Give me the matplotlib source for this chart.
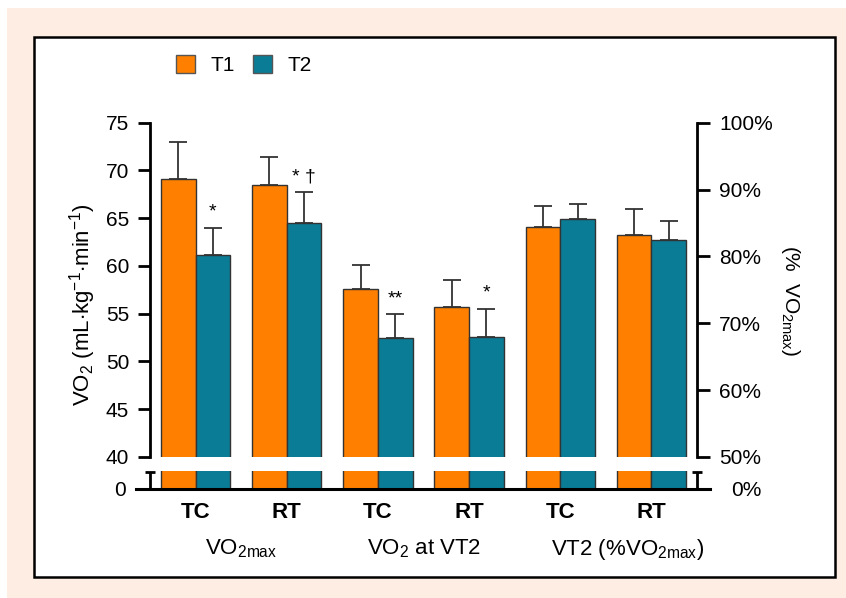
import matplotlib
matplotlib.use('Agg')
import matplotlib.pyplot as plt
from matplotlib.patches import Rectangle, Patch
import numpy as np

plt.rcParams['font.family'] = ['Liberation Sans', 'DejaVu Sans']
plt.rcParams['mathtext.fontset'] = 'custom'
plt.rcParams['mathtext.rm'] = 'Liberation Sans'
plt.rcParams['mathtext.it'] = 'Liberation Sans:italic'
plt.rcParams['mathtext.bf'] = 'Liberation Sans:bold'

# ---------------- data ----------------
conditions = ['TC', 'RT', 'TC', 'RT', 'TC', 'RT']
group_main = ['VO', 'VO', 'VT2 (%VO']
group_sub = ['2max', '2', '2max']
group_tail = ['', ' at VT2', ')']
series_names = ['T1', 'T2']
# absolute VO2 (mL/kg/min): VO2max TC, VO2max RT, VO2@VT2 TC, VO2@VT2 RT
t1_abs = [69.1, 68.5, 57.6, 55.7]
t1_abs_sd = [3.85, 2.95, 2.45, 2.85]
t2_abs = [61.2, 64.5, 52.5, 52.6]
t2_abs_sd = [2.8, 3.2, 2.45, 2.9]
# VT2 as % of VO2max: TC, RT
t1_pct = [84.4, 83.2]
t1_pct_sd = [3.1, 3.9]
t2_pct = [85.6, 82.4]
t2_pct_sd = [2.2, 2.9]
sig_t2 = ['*', '* \u2020', '**', '*', '', '']
left_ticks = [40, 45, 50, 55, 60, 65, 70, 75]
right_ticks = [50, 60, 70, 80, 90, 100]

# ---------------- style ----------------
orange = '#FF8000'
teal = '#0A7C96'
edge = '#333333'
errc = '#333333'
pink = '#FDEDE3'
FS = 15

W, H = 846, 598
fig = plt.figure(figsize=(W / 100, H / 100), dpi=100)
fig.patch.set_facecolor('white')


def fx(px):
    return px / W


def fy(py):
    return 1 - py / H


fig.patches.append(Rectangle((fx(7), 0), 1, fy(8), transform=fig.transFigure,
                             facecolor=pink, edgecolor='none', zorder=-10))
fig.patches.append(Rectangle((fx(34), fy(577)), fx(835) - fx(34), fy(37) - fy(577),
                             transform=fig.transFigure, facecolor='white',
                             edgecolor='black', lw=1.8, zorder=-9))

L, R = 150, 697
unit = (R - L) / 6.0
ax = fig.add_axes([fx(L), fy(457), fx(R) - fx(L), fy(122.7) - fy(457)])
ax.patch.set_alpha(0)
ax.set_xlim(-0.5, 5.5)
ax.set_ylim(40, 75)
ax2 = ax.twinx()
ax2.set_ylim(50, 100)

BL, BR = 136, 710
axb = fig.add_axes([fx(BL), fy(489), fx(BR) - fx(BL), fy(471) - fy(489)])
axb.patch.set_alpha(0)
axb.set_xlim(-0.5 - (L - BL) / unit, 5.5 + (BR - R) / unit)
ybtop = 18 / ((457 - 122.7) / 35.0)
axb.set_ylim(0, ybtop)

x = np.arange(6)
w = 0.38
bkw = dict(edgecolor=edge, linewidth=1.0)
ekw = dict(fmt='none', ecolor=errc, elinewidth=1.3, capsize=6.5, capthick=1.3)

ax.bar(x[:4] - w / 2, t1_abs, w, color=orange, **bkw)
ax.bar(x[:4] + w / 2, t2_abs, w, color=teal, **bkw)
ax.errorbar(x[:4] - w / 2, t1_abs, yerr=[np.zeros(4), t1_abs_sd], **ekw)
ax.errorbar(x[:4] + w / 2, t2_abs, yerr=[np.zeros(4), t2_abs_sd], **ekw)

ax2.bar(x[4:] - w / 2, t1_pct, w, color=orange, **bkw)
ax2.bar(x[4:] + w / 2, t2_pct, w, color=teal, **bkw)
ax2.errorbar(x[4:] - w / 2, t1_pct, yerr=[np.zeros(2), t1_pct_sd], **ekw)
ax2.errorbar(x[4:] + w / 2, t2_pct, yerr=[np.zeros(2), t2_pct_sd], **ekw)

# lower (broken) part of the axis: same bars, clipped
axb.bar(x - w / 2, t1_abs + t1_pct, w, color=orange, **bkw)
axb.bar(x + w / 2, t2_abs + t2_pct, w, color=teal, **bkw)

# significance marks
for i, s in enumerate(sig_t2):
    if s and i < 4:
        ax.annotate(s, (x[i] + w / 2, t2_abs[i] + t2_abs_sd[i]), xytext=(0, 8),
                    textcoords='offset points', ha='center', va='baseline',
                    fontsize=14)

# spines & ticks (upper)
for s in ['top', 'bottom', 'right']:
    ax.spines[s].set_visible(False)
ax.spines['left'].set_linewidth(2)
for s in ['top', 'bottom', 'left']:
    ax2.spines[s].set_visible(False)
ax2.spines['right'].set_linewidth(2)
ax.set_xticks([])
ax.set_yticks(left_ticks)
ax.tick_params(axis='y', length=9, width=2, pad=6, labelsize=FS)
ax2.set_yticks(right_ticks)
ax2.set_yticklabels([f'{v}%' for v in right_ticks])
ax2.tick_params(axis='y', length=9, width=2, pad=7, labelsize=FS)

# lower axis
for s in ['top', 'left', 'right']:
    axb.spines[s].set_visible(False)
axb.spines['bottom'].set_linewidth(2.2)
axb.set_xticks(x)
axb.set_xticklabels(conditions, fontweight='bold', fontsize=16)
axb.tick_params(axis='x', length=0, pad=9)
axb.set_yticks([0])
axb.set_yticklabels(['0'])
axb.tick_params(axis='y', length=0, pad=7, labelsize=FS)
axb2 = axb.twinx()
axb2.set_ylim(0, ybtop * 50 / 35)
for s in axb2.spines.values():
    s.set_visible(False)
axb2.set_yticks([0])
axb2.set_yticklabels(['0%'])
axb2.tick_params(axis='y', length=0, pad=37, labelsize=FS)
for t in axb2.get_yticklabels():
    t.set_horizontalalignment('right')

# break "I" segments
for xb in (-0.5, 5.5):
    axb.plot([xb, xb], [0, ybtop * 0.95], color='black', lw=2, clip_on=False,
             solid_capstyle='butt')
    axb.plot([xb], [ybtop * 0.95], marker='_', ms=7, mew=2, color='black',
             clip_on=False)

# group labels
group_centers_px = [241.5, 424, 628]
for cx, m, sb, tl in zip(group_centers_px, group_main, group_sub, group_tail):
    lab = m + r'$_{\mathregular{' + sb + r'}}$' + tl
    fig.text(fx(cx), fy(549), lab, ha='center', va='center', fontsize=16)

# axis titles
fig.text(fx(83), fy(305), r'VO$_{\mathregular{2}}$ (mL$\cdot$kg$^{\mathregular{-1}}$$\cdot$min$^{\mathregular{-1}}$)',
         rotation=90, ha='center', va='center', fontsize=16)
fig.text(fx(790), fy(301), r'(%  VO$_{\mathregular{2max}}$)', rotation=270,
         ha='center', va='center', fontsize=FS)

# legend
handles = [Patch(facecolor=orange, edgecolor='#555555', label=series_names[0]),
           Patch(facecolor=teal, edgecolor='#555555', label=series_names[1])]
fig.legend(handles=handles, loc='upper left', bbox_to_anchor=(fx(176), fy(55)),
           ncol=2, frameon=False, fontsize=FS, handlelength=0.92,
           handleheight=0.92, handletextpad=0.72, columnspacing=0.9,
           borderpad=0, borderaxespad=0)

fig.savefig('out.png', dpi=100, facecolor=fig.get_facecolor())
